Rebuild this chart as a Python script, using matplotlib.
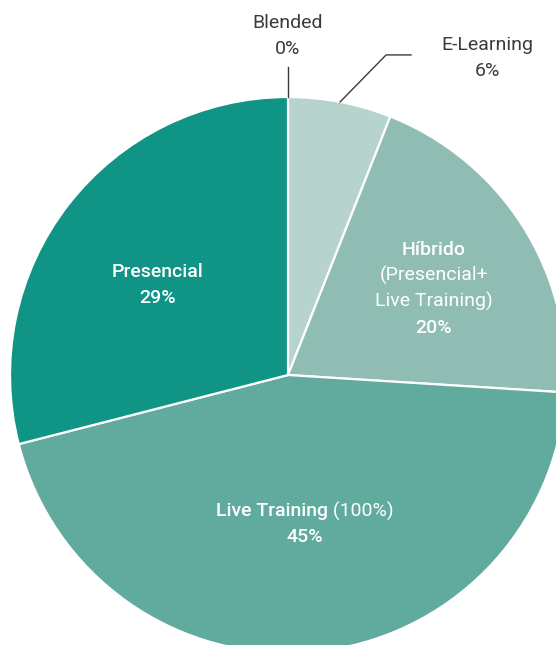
import matplotlib.pyplot as plt
import numpy as np

plt.rcParams['font.family'] = ['Roboto', 'DejaVu Sans']

# data
categories = ['Blended', 'E-Learning', 'Híbrido', 'Live Training', 'Presencial']
values = [0, 6, 20, 45, 29]
colors = ['#cfe3de', '#b6d4cd', '#8fbdb3', '#61aa9e', '#0f9485']

fig = plt.figure(figsize=(5.56, 6.45), dpi=100)
ax = fig.add_axes([0, 0, 1, 1])
R = 278.0

wedges, _ = ax.pie(values, colors=colors, startangle=90, counterclock=False,
                   radius=1, wedgeprops=dict(edgecolor='white', linewidth=1.6))
ax.set_xlim(-288 / R, (556 - 288) / R)
ax.set_ylim(-(645 - 375) / R, 375 / R)
ax.axis('off')

def mid(w):
    a = np.deg2rad((w.theta1 + w.theta2) / 2)
    return np.cos(a), np.sin(a)

def inside(w, r, dtheta):
    a = np.deg2rad((w.theta1 + w.theta2) / 2 + dtheta)
    return r * np.cos(a), r * np.sin(a)

white = 'white'
fs = 14
bold = 'medium'
light = 'normal'
fig.canvas.draw()
renderer = fig.canvas.get_renderer()

def mixed_line(x, y, parts, color):
    # parts: list of (text, weight); centre the whole line at x
    objs = [ax.text(x, y, t, fontsize=fs, fontweight=wt, color=color,
                    ha='left', va='center') for t, wt in parts]
    widths = [o.get_window_extent(renderer).width for o in objs]
    x0_px = ax.transData.transform((x, y))[0] - sum(widths) / 2
    for o, wd in zip(objs, widths):
        o.set_x(ax.transData.inverted().transform((x0_px, 0))[0])
        x0_px += wd

gap = 26 / R

# Presencial
px, py = inside(wedges[4], 0.57, 3.3)
ax.text(px, py + gap / 2, 'Presencial', fontsize=fs, fontweight=bold, color=white, ha='center', va='center')
ax.text(px, py - gap / 2, '29%', fontsize=fs, fontweight=bold, color=white, ha='center', va='center')

# Live Training
px, py = inside(wedges[3], 0.54, 1.1)
mixed_line(px, py + gap / 2, [('Live Training', bold), (' (100%)', light)], white)
ax.text(px, py - gap / 2, '45%', fontsize=fs, fontweight=bold, color=white, ha='center', va='center')

# Híbrido
px, py = inside(wedges[2], 0.61, -1.8)
ax.text(px, py + 1.5 * gap, 'Híbrido', fontsize=fs, fontweight=bold, color=white, ha='center', va='center')
ax.text(px, py + 0.5 * gap, '(Presencial+', fontsize=fs, fontweight=light, color=white, ha='center', va='center')
ax.text(px, py - 0.5 * gap, 'Live Training)', fontsize=fs, fontweight=light, color=white, ha='center', va='center')
ax.text(px, py - 1.5 * gap, '20%', fontsize=fs, fontweight=bold, color=white, ha='center', va='center')

dark = '#3b3b3b'
# Blended leader (0% slice at the top)
ax.plot([0, 0], [1.0, 308 / R], color=dark, lw=1.0)
ax.text(0, 352 / R, 'Blended', fontsize=fs, color=dark, ha='center', va='center')
ax.text(0, 326 / R, '0%', fontsize=fs, color=dark, ha='center', va='center')

# E-Learning leader
cx, cy = mid(wedges[1])
ex, ey = cx + 46 / R, cy + 47 / R
ax.plot([cx, ex, 123 / R], [cy, ey, ey], color=dark, lw=1.0)
ax.text(199 / R, 330 / R, 'E-Learning', fontsize=fs, color=dark, ha='center', va='center')
ax.text(199 / R, 304 / R, '6%', fontsize=fs, color=dark, ha='center', va='center')

fig.savefig('out.png', dpi=100)
